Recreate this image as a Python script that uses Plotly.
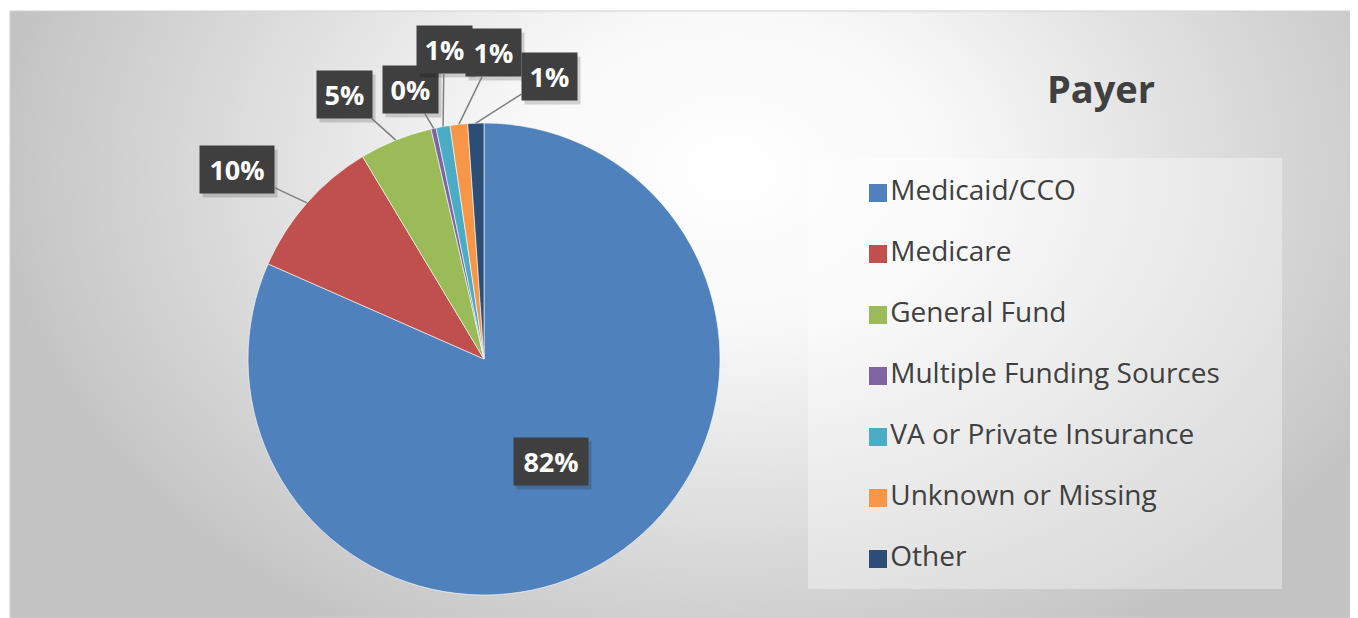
import math
import plotly.graph_objects as go

# ---------------- data ----------------
categories = ["Medicaid/CCO", "Medicare", "General Fund", "Multiple Funding Sources",
              "VA or Private Insurance", "Unknown or Missing", "Other"]
shares = [81.6, 9.8, 5.0, 0.35, 0.95, 1.2, 1.1]
colors = ["#4F81BD", "#C0504D", "#9BBB59", "#8064A2", "#4BACC6", "#F79646", "#2C4D75"]
title_text = "Payer"

# ---------------- layout constants (screen pixels) ----------------
W, H = 1358, 618
PAGE = 8                                   # default body margin of the html page
L, R, T, B = 10, 1356, 11, 618             # chart area on screen
CX, CY, RAD = 484, 359, 236                # pie centre / radius
# label box offsets (px) from the slice's outer edge point; None = inside label
label_offsets = [None, (-70, -33), (-51, -46), (-23, -39), (1, -77), (35, -72), (74, -47)]
inside_frac = 0.52
LEG_X, LEG_Y0, LEG_DY = 878, 193, 61
LEG_BOX = (808, 158, 1282, 589)
GRAD_C = (730, 170)
GRAD_R = (740, 540)
BOX_H = 47

fig = go.Figure()

# background radial gradient
gx0, gx1 = GRAD_C[0] - GRAD_R[0], GRAD_C[0] + GRAD_R[0]
gy0, gy1 = GRAD_C[1] - GRAD_R[1], GRAD_C[1] + GRAD_R[1]
fig.add_trace(go.Scatter(
    x=[gx0, gx1, gx1, gx0, gx0], y=[gy0, gy0, gy1, gy1, gy0],
    mode="lines", fill="toself", line=dict(width=0),
    fillgradient=dict(type="radial",
                      colorscale=[[0, "#ffffff"], [0.3, "#f8f8f8"], [1, "#c3c3c3"]]),
    hoverinfo="skip", showlegend=False))

# legend box
bx0, by0, bx1, by1 = LEG_BOX
fig.add_trace(go.Scatter(
    x=[bx0, bx1, bx1, bx0, bx0], y=[by0, by0, by1, by1, by0],
    mode="lines", fill="toself", fillcolor="rgba(255,255,255,0.35)",
    line=dict(width=0), hoverinfo="skip", showlegend=False))

# legend entries
fig.add_trace(go.Scatter(
    x=[LEG_X] * len(categories),
    y=[LEG_Y0 + i * LEG_DY for i in range(len(categories))],
    mode="markers+text",
    marker=dict(symbol="square", size=18, color=colors, line=dict(width=0)),
    text=categories, textposition="middle right",
    textfont=dict(family="Open Sans", size=28, color="#404040"),
    hoverinfo="skip", showlegend=False))

# pie
fig.add_trace(go.Pie(
    labels=categories, values=shares, sort=False, direction="clockwise", rotation=0,
    marker=dict(colors=colors, line=dict(color="#ffffff", width=0.6)),
    textinfo="none", hoverinfo="label+percent", showlegend=False,
    domain=dict(x=[(CX - RAD - L) / (R - L), (CX + RAD - L) / (R - L)],
                y=[(B - (CY + RAD)) / (B - T), (B - (CY - RAD)) / (B - T)])))

# data labels
total = sum(shares)
cum = 0.0
annotations = []
for v, off in zip(shares, label_offsets):
    mid = (cum + v / 2) / total * 2 * math.pi
    cum += v
    txt = f"{round(v / total * 100)}%"
    bw = 17 + 19 * len(txt)
    if off is None:
        x = CX + inside_frac * RAD * math.sin(mid)
        y = CY - inside_frac * RAD * math.cos(mid)
        bx, by = x, y
        base = dict(x=x, y=y, showarrow=False)
    else:
        x = CX + RAD * math.sin(mid)
        y = CY - RAD * math.cos(mid)
        bx, by = x + off[0], y + off[1]
        base = dict(x=x, y=y, ax=off[0], ay=off[1], showarrow=True,
                    arrowhead=0, arrowwidth=1.5, arrowcolor="#7f7f7f", standoff=0)
    # shadow box
    annotations.append(dict(x=bx + 3, y=by + 4, xref="x", yref="y", text="&nbsp;",
                            showarrow=False, bgcolor="rgba(0,0,0,0.16)", borderpad=0,
                            width=bw, height=BOX_H,
                            font=dict(family="Open Sans", size=27, color="rgba(0,0,0,0)")))
    annotations.append(dict(xref="x", yref="y", text=txt, bgcolor="#3f3f3f", borderpad=0,
                            width=bw, height=BOX_H,
                            font=dict(family="Open Sans", size=27, color="#ffffff",
                                      weight=700), **base))

fig.update_layout(
    width=W - PAGE, height=H - PAGE,
    margin=dict(l=L - PAGE, r=W - R, t=T - PAGE, b=H - B, pad=0),
    paper_bgcolor="#ffffff", plot_bgcolor="#ffffff",
    xaxis=dict(range=[L, R], visible=False, fixedrange=True),
    yaxis=dict(range=[B, T], visible=False, fixedrange=True),
    title=dict(text=title_text, x=(1101 - PAGE) / (W - PAGE), y=1 - (90 - PAGE) / (H - PAGE),
               xanchor="center", yanchor="middle",
               font=dict(family="Open Sans", size=38, color="#404040", weight=700)),
    annotations=annotations,
    shapes=[dict(type="rect", xref="paper", yref="paper", x0=0, x1=1, y0=0, y1=1,
                 line=dict(color="#d0d0d0", width=1), layer="above")],
    showlegend=False,
)

fig.write_html("out.html")
